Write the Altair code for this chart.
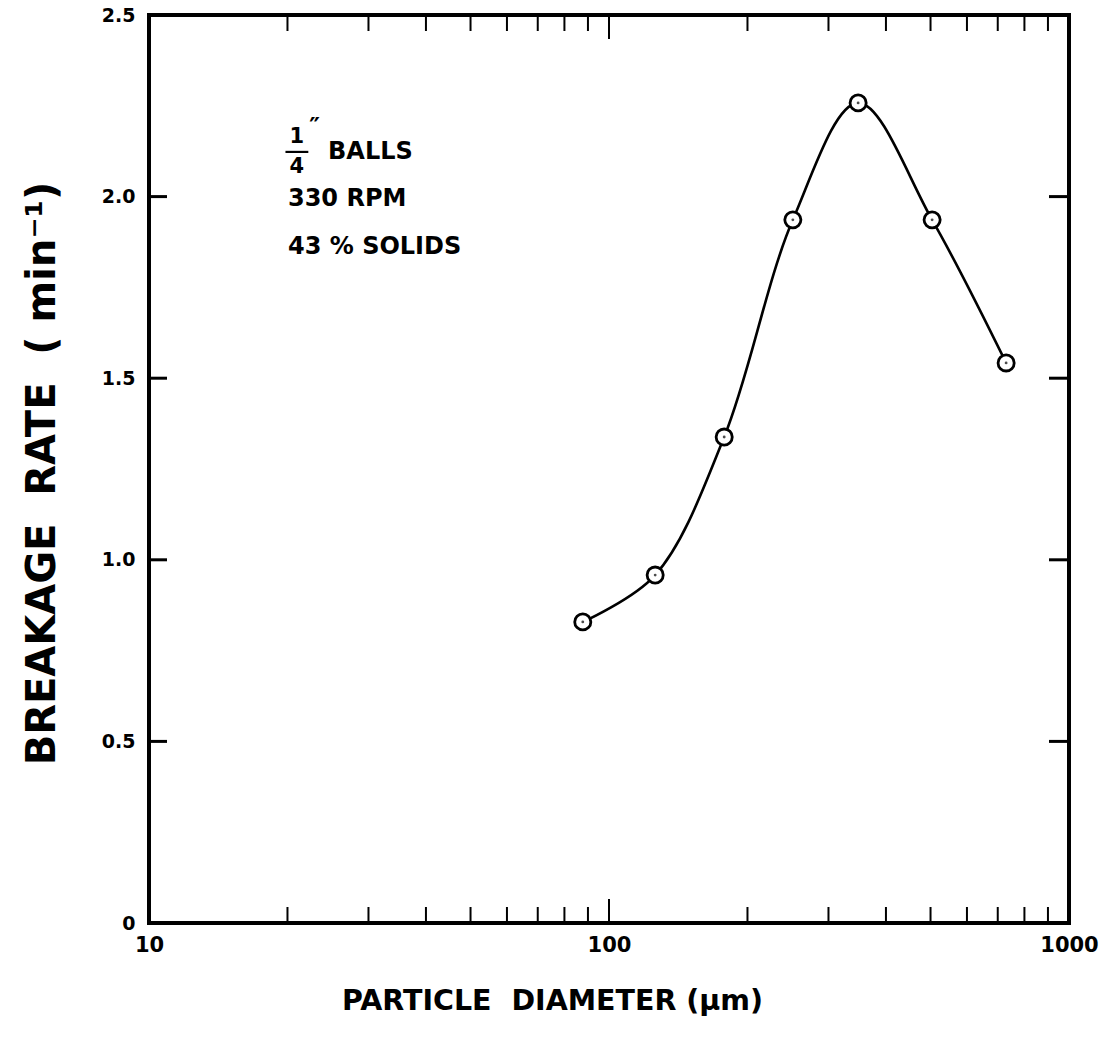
import altair as alt
import pandas as pd

# ---- data ----
diameter_um = [87.7, 126, 178, 251, 348, 504, 730]
breakage_rate = [0.829, 0.958, 1.338, 1.936, 2.258, 1.936, 1.542]

x_minor_ticks = [20, 30, 40, 50, 60, 70, 80, 90, 200, 300, 400, 500, 600, 700, 800, 900]
x_major_ticks = [10, 100, 1000]
x_labels = [10, 100, 1000]
y_ticks = [0.5, 1.0, 1.5, 2.0]
y_labels = [0, 0.5, 1.0, 1.5, 2.0, 2.5]

NB = "\u00a0"
ann_lines = ["330" + NB + "RPM", "43" + NB + "%" + NB + "SOLIDS"]
ann_x = [20.05, 20.05]
ann_y = [1.993, 1.861]

W, H = 920, 908
FONT = "DejaVu Sans"

xs = alt.Scale(type="log", domain=[10, 1000])
ys = alt.Scale(domain=[0, 2.5])

pts = pd.DataFrame({"d": diameter_um, "k": breakage_rate})

x_axis = alt.Axis(values=x_labels, ticks=False, domain=False, grid=False,
                  labelExpr="format(datum.value, 'd')", labelFlush=False,
                  labelFontSize=21, labelFont=FONT, labelFontWeight="bold",
                  labelColor="black", labelPadding=11,
                  title="PARTICLE" + NB + NB + "DIAMETER" + NB + "(μm)",
                  titleFont=FONT, titleFontSize=28.5,
                  titleFontWeight="bold", titleColor="black",
                  titleX=403, titleY=77, titleBaseline="middle", titleAlign="center")
y_axis = alt.Axis(values=y_labels, ticks=False, domain=False, grid=False,
                  labelExpr="datum.value == 0 ? '0' : format(datum.value, '.1f')",
                  labelFontSize=19, labelFont=FONT, labelFontWeight="bold",
                  labelColor="black", labelPadding=14, labelFlush=False,
                  title="BREAKAGE" + NB + NB + "RATE" + NB + NB + "(" + NB + "min⁻¹)",
                  titleFont=FONT, titleFontSize=40,
                  titleFontWeight="bold", titleColor="black",
                  titleX=-107, titleY=H / 2 + 4, titleBaseline="middle", titleAlign="center",
                  titleAngle=270)

base = alt.Chart(pts)

line = base.mark_line(interpolate="catmull-rom", color="black", strokeWidth=2.6).encode(
    x=alt.X("d:Q", scale=xs, axis=x_axis),
    y=alt.Y("k:Q", scale=ys, axis=y_axis),
)
circles = base.mark_point(shape="circle", filled=True, fill="white", stroke="black",
                          strokeWidth=2.8, size=260, opacity=1).encode(
    x=alt.X("d:Q", scale=xs), y=alt.Y("k:Q", scale=ys))
dots = base.mark_point(shape="circle", filled=True, color="black", size=8).encode(
    x=alt.X("d:Q", scale=xs), y=alt.Y("k:Q", scale=ys))

minor_df = pd.DataFrame({"t": x_minor_ticks})
major_df = pd.DataFrame({"t": x_major_ticks})
ytick_df = pd.DataFrame({"t": y_ticks})

def xt(df, y0, y1):
    return alt.Chart(df).mark_rule(color="black", strokeWidth=2).encode(
        x=alt.X("t:Q", scale=xs), y=alt.value(y0), y2=alt.value(y1))

def yt(x0, x1):
    return alt.Chart(ytick_df).mark_rule(color="black", strokeWidth=3).encode(
        y=alt.Y("t:Q", scale=ys), x=alt.value(x0), x2=alt.value(x1))

ticks = [xt(minor_df, H, H - 16), xt(minor_df, 0, 16),
         xt(major_df, H, H - 24), xt(major_df, 0, 24),
         yt(0, 18), yt(W, W - 20)]

# annotation text
ann_df = pd.DataFrame({"x": ann_x, "y": ann_y, "txt": ann_lines})
ann = alt.Chart(ann_df).mark_text(align="left", baseline="middle", font=FONT,
                                  fontSize=24, fontWeight="bold", color="black").encode(
    x=alt.X("x:Q", scale=xs), y=alt.Y("y:Q", scale=ys), text="txt:N")

frac_nums = pd.DataFrame({"x": [20.97, 20.97], "y": [2.164, 2.081], "txt": ["1", "4"]})
frac_rest = pd.DataFrame({"x": [22.3, 24.5], "y": [2.19, 2.123], "txt": ["″", "BALLS"]})
frac_c = alt.Chart(frac_nums).mark_text(align="center", baseline="middle", font=FONT,
                                        fontSize=21, fontWeight="bold", color="black").encode(
    x=alt.X("x:Q", scale=xs), y=alt.Y("y:Q", scale=ys), text="txt:N")
frac_l = alt.Chart(frac_rest).mark_text(align="left", baseline="middle", font=FONT,
                                        fontSize=24, fontWeight="bold", color="black").encode(
    x=alt.X("x:Q", scale=xs), y=alt.Y("y:Q", scale=ys), text="txt:N")
bar_df = pd.DataFrame({"x1": [19.8], "x2": [22.2], "y": [2.123]})
frac_bar = alt.Chart(bar_df).mark_rule(color="black", strokeWidth=2.2).encode(
    x=alt.X("x1:Q", scale=xs), x2="x2:Q", y=alt.Y("y:Q", scale=ys))

chart = alt.layer(line, circles, dots, *ticks, ann, frac_c, frac_l, frac_bar).properties(
    width=W, height=H,
    autosize=alt.AutoSizeParams(type="none"),
    padding={"left": 149, "top": 15, "right": 39, "bottom": 118},
).configure_view(stroke="black", strokeWidth=4)

chart.save("out.html", embed_options={"renderer": "svg", "actions": False})
